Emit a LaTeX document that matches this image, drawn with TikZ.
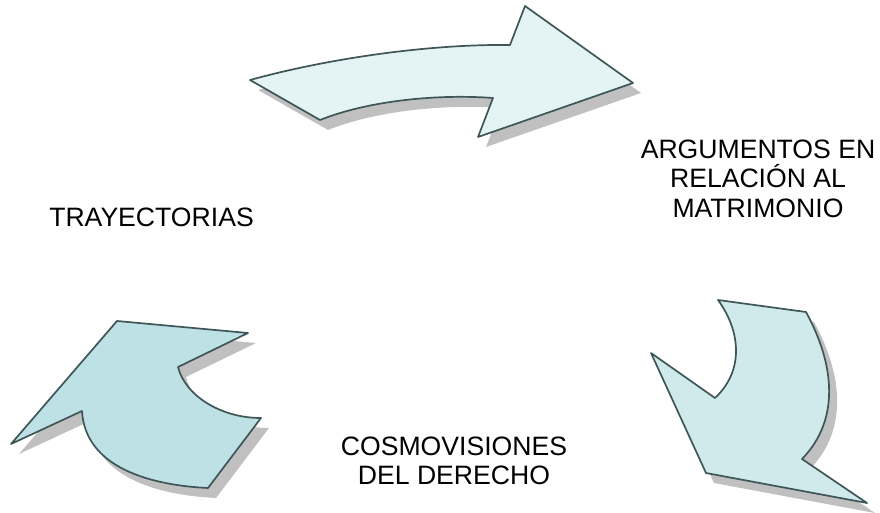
\documentclass[tikz,border=0pt]{standalone}
\usepackage{fontspec}
\setmainfont{Liberation Sans}
\definecolor{arrowline}{RGB}{62,86,88}
\definecolor{arrowshade}{RGB}{192,192,192}
\definecolor{arrowpale}{RGB}{228,244,244}
\definecolor{arrowmid}{RGB}{208,234,236}
\definecolor{arrowdeep}{RGB}{190,225,229}
\tikzset{
    cyclearrow/.style={draw=arrowline, line width=1.7pt, line join=round},
    cycleshadow/.style={fill=arrowshade, shift={(8,10)}},
    cyclelabel/.style={font=\fontsize{26.6}{29.5}\selectfont, align=center, inner sep=0pt}
}
\newcommand{\toparrowpath}{(250,80) .. controls (330,58) and (430,44) .. (510,45) -- (525,6)
    -- (633,83) -- (478,137) -- (493,98) .. controls (440,94) and (370,100) .. (320,120) -- cycle}
\newcommand{\rightarrowpath}{(718,300) -- (806,312) .. controls (835,365) and (840,420) .. (802,459)
    -- (867,503) -- (706,473) -- (651,353) -- (715,398) .. controls (745,370) and (740,330) .. (718,300) -- cycle}
\newcommand{\leftarrowpath}{(117,321) -- (248,333) -- (178,367) .. controls (185,395) and (220,418) .. (261,418)
    -- (208,488) .. controls (145,485) and (85,465) .. (82,411) -- (11,444) -- cycle}

\begin{document}
\begin{tikzpicture}[x=1pt, y=-1pt]
        \useasboundingbox (0,0) rectangle (880,513);
        % shadows
        \fill[cycleshadow] \toparrowpath;
        \fill[cycleshadow] \rightarrowpath;
        \fill[cycleshadow] \leftarrowpath;
        % arrows
        \filldraw[cyclearrow, fill=arrowpale] \toparrowpath;
        \filldraw[cyclearrow, fill=arrowmid] \rightarrowpath;
        \filldraw[cyclearrow, fill=arrowdeep] \leftarrowpath;
        % labels
        \node[cyclelabel] (trayectorias) at (151.5,217.7) {TRAYECTORIAS};
        \node[cyclelabel] (argumentos) at (758,178.7) {ARGUMENTOS EN\\RELACIÓN AL\\MATRIMONIO};
        \node[cyclelabel] (cosmovisiones) at (454,460.7) {COSMOVISIONES\\DEL DERECHO};
    \end{tikzpicture}
\end{document}
